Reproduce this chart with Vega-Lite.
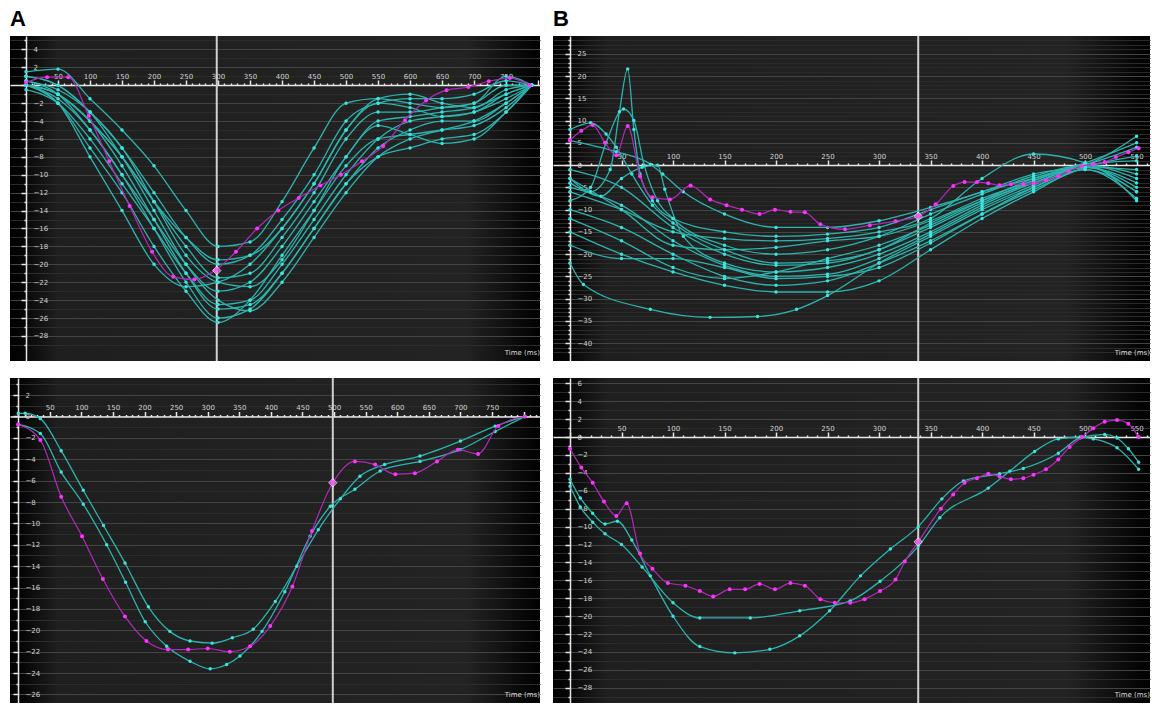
{
"$schema": "https://vega.github.io/schema/vega-lite/v6.json",
"background": "white",
"padding": {"left": 10, "top": 8, "right": 2, "bottom": 3},
"config": {
  "font": "DejaVu Sans",
  "view": {"fill": {"gradient": "linear", "x1": 0, "y1": 0, "x2": 1, "y2": 0, "stops": [{"offset": 0, "color": "#000000"}, {"offset": 0.025, "color": "#060606"}, {"offset": 0.09, "color": "#1f1f1f"}, {"offset": 0.86, "color": "#232323"}, {"offset": 1, "color": "#000000"}]}, "stroke": null},
  "axis": {"labelColor": "#d0d0d0", "labelFontSize": 7, "domainColor": "#e6e6e6", "domainWidth": 1.5, "tickColor": "#e6e6e6", "tickWidth": 1.5, "grid": false, "labelOverlap": false, "labelFlush": false},
  "axisY": {"labelAlign": "left", "labelPadding": -12},
  "axisX": {"labelPadding": 1},
  "title": {"fontSize": 7, "color": "#dddddd", "fontWeight": "normal"}
},
"datasets": {
"a1": [
{"s":"L","t":298},
{"s":"M","t":298,"v":-20.7},
{"s":"c1","t":0,"v":1.5},{"s":"c1","t":50,"v":1.8},{"s":"c1","t":100,"v":-1.5},{"s":"c1","t":150,"v":-5},{"s":"c1","t":200,"v":-9},{"s":"c1","t":250,"v":-14},{"s":"c1","t":300,"v":-18},{"s":"c1","t":350,"v":-17.5},{"s":"c1","t":400,"v":-13},{"s":"c1","t":450,"v":-7},{"s":"c1","t":500,"v":-2},{"s":"c1","t":550,"v":-1.5},{"s":"c1","t":600,"v":-2},{"s":"c1","t":650,"v":-2.5},{"s":"c1","t":700,"v":-2},{"s":"c1","t":750,"v":1},{"s":"c1","t":790,"v":0},
{"s":"c2","t":0,"v":1},{"s":"c2","t":50,"v":0},{"s":"c2","t":100,"v":-3},{"s":"c2","t":150,"v":-7},{"s":"c2","t":200,"v":-12},{"s":"c2","t":250,"v":-17},{"s":"c2","t":300,"v":-20},{"s":"c2","t":350,"v":-19},{"s":"c2","t":400,"v":-15},{"s":"c2","t":450,"v":-10},{"s":"c2","t":500,"v":-4},{"s":"c2","t":550,"v":-2},{"s":"c2","t":600,"v":-1.5},{"s":"c2","t":650,"v":-1.5},{"s":"c2","t":700,"v":-1},{"s":"c2","t":750,"v":0.5},{"s":"c2","t":790,"v":0},
{"s":"c3","t":0,"v":0},{"s":"c3","t":50,"v":-1},{"s":"c3","t":100,"v":-4},{"s":"c3","t":150,"v":-8},{"s":"c3","t":200,"v":-13},{"s":"c3","t":250,"v":-18},{"s":"c3","t":300,"v":-21.5},{"s":"c3","t":350,"v":-21},{"s":"c3","t":400,"v":-17},{"s":"c3","t":450,"v":-12},{"s":"c3","t":500,"v":-6},{"s":"c3","t":550,"v":-3},{"s":"c3","t":600,"v":-3},{"s":"c3","t":650,"v":-2.5},{"s":"c3","t":700,"v":-2},{"s":"c3","t":750,"v":0},{"s":"c3","t":790,"v":0},
{"s":"c4","t":0,"v":0},{"s":"c4","t":50,"v":-1.5},{"s":"c4","t":100,"v":-5},{"s":"c4","t":150,"v":-10},{"s":"c4","t":200,"v":-15},{"s":"c4","t":250,"v":-20},{"s":"c4","t":300,"v":-23},{"s":"c4","t":350,"v":-22},{"s":"c4","t":400,"v":-18},{"s":"c4","t":450,"v":-13},{"s":"c4","t":500,"v":-8},{"s":"c4","t":550,"v":-4},{"s":"c4","t":600,"v":-3.5},{"s":"c4","t":650,"v":-3},{"s":"c4","t":700,"v":-2.5},{"s":"c4","t":750,"v":-1},{"s":"c4","t":790,"v":0},
{"s":"c5","t":0,"v":-0.5},{"s":"c5","t":50,"v":-2},{"s":"c5","t":100,"v":-6},{"s":"c5","t":150,"v":-11},{"s":"c5","t":200,"v":-16},{"s":"c5","t":250,"v":-21},{"s":"c5","t":300,"v":-24.5},{"s":"c5","t":350,"v":-24},{"s":"c5","t":400,"v":-20},{"s":"c5","t":450,"v":-15},{"s":"c5","t":500,"v":-10},{"s":"c5","t":550,"v":-6},{"s":"c5","t":600,"v":-4},{"s":"c5","t":650,"v":-3.5},{"s":"c5","t":700,"v":-3},{"s":"c5","t":750,"v":-1.5},{"s":"c5","t":790,"v":0},
{"s":"c6","t":0,"v":0.5},{"s":"c6","t":50,"v":-1},{"s":"c6","t":100,"v":-5},{"s":"c6","t":150,"v":-10},{"s":"c6","t":200,"v":-16},{"s":"c6","t":250,"v":-22},{"s":"c6","t":300,"v":-26},{"s":"c6","t":350,"v":-25},{"s":"c6","t":400,"v":-21},{"s":"c6","t":450,"v":-16},{"s":"c6","t":500,"v":-11},{"s":"c6","t":550,"v":-7},{"s":"c6","t":600,"v":-5},{"s":"c6","t":650,"v":-4},{"s":"c6","t":700,"v":-4},{"s":"c6","t":750,"v":-2},{"s":"c6","t":790,"v":0},
{"s":"c7","t":0,"v":0},{"s":"c7","t":50,"v":-2},{"s":"c7","t":100,"v":-7},{"s":"c7","t":150,"v":-12},{"s":"c7","t":200,"v":-18},{"s":"c7","t":250,"v":-23},{"s":"c7","t":300,"v":-26.5},{"s":"c7","t":350,"v":-24},{"s":"c7","t":400,"v":-19},{"s":"c7","t":450,"v":-14},{"s":"c7","t":500,"v":-9},{"s":"c7","t":550,"v":-6},{"s":"c7","t":600,"v":-5.5},{"s":"c7","t":650,"v":-5},{"s":"c7","t":700,"v":-4.5},{"s":"c7","t":750,"v":-2.5},{"s":"c7","t":790,"v":0},
{"s":"c8","t":0,"v":1},{"s":"c8","t":50,"v":0},{"s":"c8","t":100,"v":-3},{"s":"c8","t":150,"v":-8},{"s":"c8","t":200,"v":-14},{"s":"c8","t":250,"v":-20},{"s":"c8","t":300,"v":-24},{"s":"c8","t":350,"v":-25.2},{"s":"c8","t":400,"v":-22},{"s":"c8","t":450,"v":-17},{"s":"c8","t":500,"v":-12},{"s":"c8","t":550,"v":-8},{"s":"c8","t":600,"v":-6},{"s":"c8","t":650,"v":-5},{"s":"c8","t":700,"v":-4},{"s":"c8","t":750,"v":-2},{"s":"c8","t":790,"v":0},
{"s":"c9","t":0,"v":0},{"s":"c9","t":50,"v":-1},{"s":"c9","t":100,"v":-4},{"s":"c9","t":150,"v":-9},{"s":"c9","t":200,"v":-15},{"s":"c9","t":250,"v":-21},{"s":"c9","t":300,"v":-25},{"s":"c9","t":350,"v":-24.5},{"s":"c9","t":400,"v":-21},{"s":"c9","t":450,"v":-16},{"s":"c9","t":500,"v":-11},{"s":"c9","t":550,"v":-8},{"s":"c9","t":600,"v":-7},{"s":"c9","t":650,"v":-6},{"s":"c9","t":700,"v":-5.5},{"s":"c9","t":750,"v":-3},{"s":"c9","t":790,"v":0},
{"s":"c10","t":0,"v":0},{"s":"c10","t":50,"v":-2},{"s":"c10","t":100,"v":-8},{"s":"c10","t":150,"v":-14},{"s":"c10","t":200,"v":-20},{"s":"c10","t":250,"v":-22.5},{"s":"c10","t":300,"v":-22},{"s":"c10","t":350,"v":-20},{"s":"c10","t":400,"v":-16},{"s":"c10","t":450,"v":-11},{"s":"c10","t":500,"v":-5},{"s":"c10","t":550,"v":-2},{"s":"c10","t":600,"v":-2.5},{"s":"c10","t":650,"v":-3.5},{"s":"c10","t":700,"v":-3},{"s":"c10","t":750,"v":-1},{"s":"c10","t":790,"v":0},
{"s":"c11","t":0,"v":0.5},{"s":"c11","t":50,"v":-0.5},{"s":"c11","t":100,"v":-3},{"s":"c11","t":150,"v":-7},{"s":"c11","t":200,"v":-13},{"s":"c11","t":250,"v":-19},{"s":"c11","t":300,"v":-22},{"s":"c11","t":350,"v":-22.5},{"s":"c11","t":400,"v":-19.5},{"s":"c11","t":450,"v":-14},{"s":"c11","t":500,"v":-8},{"s":"c11","t":550,"v":-4.5},{"s":"c11","t":600,"v":-5.5},{"s":"c11","t":650,"v":-6.5},{"s":"c11","t":700,"v":-6},{"s":"c11","t":750,"v":-3},{"s":"c11","t":790,"v":0},
{"s":"c12","t":0,"v":0},{"s":"c12","t":50,"v":-1},{"s":"c12","t":100,"v":-4},{"s":"c12","t":150,"v":-8},{"s":"c12","t":200,"v":-13},{"s":"c12","t":250,"v":-17},{"s":"c12","t":300,"v":-19.5},{"s":"c12","t":350,"v":-19},{"s":"c12","t":400,"v":-16},{"s":"c12","t":450,"v":-11},{"s":"c12","t":500,"v":-5},{"s":"c12","t":550,"v":-1.5},{"s":"c12","t":600,"v":-1},{"s":"c12","t":650,"v":-2},{"s":"c12","t":700,"v":-2.5},{"s":"c12","t":750,"v":-0.5},{"s":"c12","t":790,"v":0},
{"s":"m","t":0,"v":0.3},{"s":"m","t":33,"v":0.9},{"s":"m","t":66,"v":0.9},{"s":"m","t":98,"v":-3.4},{"s":"m","t":130,"v":-8.5},{"s":"m","t":162,"v":-13.5},{"s":"m","t":197,"v":-18.6},{"s":"m","t":230,"v":-21.4},{"s":"m","t":263,"v":-21.7},{"s":"m","t":295,"v":-20.7},{"s":"m","t":328,"v":-18.6},{"s":"m","t":361,"v":-16},{"s":"m","t":394,"v":-14},{"s":"m","t":426,"v":-12.6},{"s":"m","t":460,"v":-11.2},{"s":"m","t":492,"v":-10},{"s":"m","t":525,"v":-8.5},{"s":"m","t":558,"v":-6.8},{"s":"m","t":592,"v":-3.9},{"s":"m","t":625,"v":-1.7},{"s":"m","t":657,"v":-0.55},{"s":"m","t":691,"v":-0.2},{"s":"m","t":723,"v":0.45},{"s":"m","t":756,"v":0.8},{"s":"m","t":787,"v":0}
],
"a2": [
{"s":"L","t":498},
{"s":"M","t":498,"v":-6.2},
{"s":"c1","t":0,"v":0.3},{"s":"c1","t":11,"v":0.3},{"s":"c1","t":35,"v":-0.2},{"s":"c1","t":68,"v":-3.2},{"s":"c1","t":103,"v":-6.9},{"s":"c1","t":135,"v":-10.2},{"s":"c1","t":169,"v":-13.7},{"s":"c1","t":206,"v":-17.8},{"s":"c1","t":240,"v":-20.1},{"s":"c1","t":272,"v":-21},{"s":"c1","t":307,"v":-21.2},{"s":"c1","t":339,"v":-20.7},{"s":"c1","t":372,"v":-19.9},{"s":"c1","t":407,"v":-17.3},{"s":"c1","t":441,"v":-14},{"s":"c1","t":475,"v":-10.6},{"s":"c1","t":510,"v":-7.7},{"s":"c1","t":541,"v":-5.6},{"s":"c1","t":580,"v":-4.5},{"s":"c1","t":636,"v":-3.7},{"s":"c1","t":700,"v":-2.3},{"s":"c1","t":755,"v":-0.9},{"s":"c1","t":802,"v":0},
{"s":"c2","t":0,"v":-0.75},{"s":"c2","t":35,"v":-1.6},{"s":"c2","t":68,"v":-5.2},{"s":"c2","t":103,"v":-8.2},{"s":"c2","t":140,"v":-12},{"s":"c2","t":170,"v":-15.5},{"s":"c2","t":201,"v":-19.2},{"s":"c2","t":235,"v":-21.5},{"s":"c2","t":272,"v":-22.9},{"s":"c2","t":304,"v":-23.6},{"s":"c2","t":330,"v":-23.2},{"s":"c2","t":351,"v":-22.4},{"s":"c2","t":386,"v":-20.1},{"s":"c2","t":422,"v":-16.4},{"s":"c2","t":462,"v":-11.2},{"s":"c2","t":494,"v":-8.4},{"s":"c2","t":533,"v":-6.8},{"s":"c2","t":573,"v":-5.1},{"s":"c2","t":636,"v":-4.2},{"s":"c2","t":700,"v":-3.1},{"s":"c2","t":755,"v":-1.4},{"s":"c2","t":802,"v":0},
{"s":"m","t":0,"v":-0.75},{"s":"m","t":35,"v":-2.2},{"s":"m","t":68,"v":-7.5},{"s":"m","t":101,"v":-11.2},{"s":"m","t":134,"v":-15.2},{"s":"m","t":169,"v":-18.7},{"s":"m","t":203,"v":-21},{"s":"m","t":237,"v":-21.8},{"s":"m","t":269,"v":-21.8},{"s":"m","t":300,"v":-21.7},{"s":"m","t":335,"v":-22},{"s":"m","t":367,"v":-21.5},{"s":"m","t":399,"v":-19.6},{"s":"m","t":434,"v":-15.9},{"s":"m","t":465,"v":-10.7},{"s":"m","t":498,"v":-6.2},{"s":"m","t":533,"v":-4.2},{"s":"m","t":565,"v":-4.5},{"s":"m","t":597,"v":-5.4},{"s":"m","t":628,"v":-5.3},{"s":"m","t":663,"v":-4.2},{"s":"m","t":696,"v":-3.1},{"s":"m","t":728,"v":-3.5},{"s":"m","t":760,"v":-0.9},{"s":"m","t":802,"v":0}
],
"b1": [
{"s":"L","t":338},
{"s":"M","t":338,"v":-11.5},
{"s":"c1","t":0,"v":-4},{"s":"c1","t":20,"v":-6},{"s":"c1","t":39,"v":-1},{"s":"c1","t":48,"v":12},{"s":"c1","t":56,"v":21.6},{"s":"c1","t":62,"v":8},{"s":"c1","t":68,"v":-2},{"s":"c1","t":80,"v":-8},{"s":"c1","t":100,"v":-12},{"s":"c1","t":150,"v":-15},{"s":"c1","t":200,"v":-16},{"s":"c1","t":250,"v":-15.5},{"s":"c1","t":300,"v":-14},{"s":"c1","t":350,"v":-10},{"s":"c1","t":400,"v":-6},{"s":"c1","t":450,"v":-3},{"s":"c1","t":500,"v":0},{"s":"c1","t":550,"v":4},
{"s":"c2","t":0,"v":-8},{"s":"c2","t":20,"v":-5},{"s":"c2","t":35,"v":5},{"s":"c2","t":52,"v":12.6},{"s":"c2","t":62,"v":10},{"s":"c2","t":72,"v":0},{"s":"c2","t":85,"v":-8},{"s":"c2","t":100,"v":-12},{"s":"c2","t":150,"v":-18},{"s":"c2","t":200,"v":-20},{"s":"c2","t":250,"v":-19},{"s":"c2","t":300,"v":-16},{"s":"c2","t":350,"v":-11},{"s":"c2","t":400,"v":-6.5},{"s":"c2","t":450,"v":-2.5},{"s":"c2","t":500,"v":0},{"s":"c2","t":550,"v":-2},
{"s":"c3","t":0,"v":8},{"s":"c3","t":20,"v":9.5},{"s":"c3","t":35,"v":7},{"s":"c3","t":45,"v":4},{"s":"c3","t":60,"v":-2},{"s":"c3","t":80,"v":-9},{"s":"c3","t":100,"v":-13},{"s":"c3","t":150,"v":-19},{"s":"c3","t":200,"v":-22},{"s":"c3","t":250,"v":-21.5},{"s":"c3","t":300,"v":-19},{"s":"c3","t":350,"v":-13},{"s":"c3","t":400,"v":-8},{"s":"c3","t":450,"v":-4},{"s":"c3","t":500,"v":-0.5},{"s":"c3","t":550,"v":-4},
{"s":"c4","t":0,"v":5.5},{"s":"c4","t":45,"v":3},{"s":"c4","t":78,"v":0.2},{"s":"c4","t":90,"v":-2},{"s":"c4","t":110,"v":-6},{"s":"c4","t":150,"v":-11},{"s":"c4","t":200,"v":-14},{"s":"c4","t":250,"v":-14},{"s":"c4","t":300,"v":-12.5},{"s":"c4","t":350,"v":-9.5},{"s":"c4","t":400,"v":-6},{"s":"c4","t":450,"v":-2},{"s":"c4","t":500,"v":0},{"s":"c4","t":550,"v":6.5},
{"s":"c5","t":0,"v":-3},{"s":"c5","t":30,"v":-7},{"s":"c5","t":50,"v":-3},{"s":"c5","t":70,"v":-0.5},{"s":"c5","t":85,"v":0},{"s":"c5","t":92,"v":-5.4},{"s":"c5","t":110,"v":-16},{"s":"c5","t":150,"v":-22},{"s":"c5","t":200,"v":-24},{"s":"c5","t":250,"v":-23},{"s":"c5","t":300,"v":-20},{"s":"c5","t":350,"v":-15},{"s":"c5","t":400,"v":-9},{"s":"c5","t":450,"v":-4},{"s":"c5","t":500,"v":-0.5},{"s":"c5","t":550,"v":-5},
{"s":"c6","t":0,"v":-22},{"s":"c6","t":13,"v":-26.8},{"s":"c6","t":78,"v":-32.4},{"s":"c6","t":136,"v":-34.2},{"s":"c6","t":182,"v":-34},{"s":"c6","t":220,"v":-32.4},{"s":"c6","t":250,"v":-29.3},{"s":"c6","t":300,"v":-22},{"s":"c6","t":350,"v":-16},{"s":"c6","t":400,"v":-10},{"s":"c6","t":450,"v":-5},{"s":"c6","t":500,"v":-1},{"s":"c6","t":550,"v":-7.5},
{"s":"c7","t":0,"v":-15},{"s":"c7","t":50,"v":-20},{"s":"c7","t":100,"v":-24},{"s":"c7","t":150,"v":-27},{"s":"c7","t":200,"v":-28.5},{"s":"c7","t":250,"v":-28.5},{"s":"c7","t":300,"v":-26},{"s":"c7","t":350,"v":-19},{"s":"c7","t":400,"v":-12},{"s":"c7","t":450,"v":-6},{"s":"c7","t":500,"v":-1},{"s":"c7","t":550,"v":-6},
{"s":"c8","t":0,"v":-10},{"s":"c8","t":50,"v":-14},{"s":"c8","t":100,"v":-20},{"s":"c8","t":150,"v":-25},{"s":"c8","t":200,"v":-27},{"s":"c8","t":250,"v":-26},{"s":"c8","t":300,"v":-22},{"s":"c8","t":350,"v":-17},{"s":"c8","t":400,"v":-11},{"s":"c8","t":450,"v":-5.5},{"s":"c8","t":500,"v":-0.5},{"s":"c8","t":550,"v":2},
{"s":"c9","t":0,"v":-5},{"s":"c9","t":50,"v":-9},{"s":"c9","t":100,"v":-17},{"s":"c9","t":150,"v":-22.5},{"s":"c9","t":200,"v":-25},{"s":"c9","t":250,"v":-24.5},{"s":"c9","t":300,"v":-21},{"s":"c9","t":350,"v":-15.5},{"s":"c9","t":400,"v":-9.5},{"s":"c9","t":450,"v":-4.5},{"s":"c9","t":500,"v":0},{"s":"c9","t":550,"v":-3},
{"s":"c10","t":0,"v":-1},{"s":"c10","t":50,"v":-5},{"s":"c10","t":100,"v":-14},{"s":"c10","t":150,"v":-20},{"s":"c10","t":200,"v":-22.5},{"s":"c10","t":250,"v":-22},{"s":"c10","t":300,"v":-19},{"s":"c10","t":350,"v":-14},{"s":"c10","t":400,"v":-8.5},{"s":"c10","t":450,"v":-3.5},{"s":"c10","t":500,"v":0},{"s":"c10","t":550,"v":1},
{"s":"c11","t":0,"v":-12},{"s":"c11","t":50,"v":-17},{"s":"c11","t":100,"v":-23},{"s":"c11","t":150,"v":-25.5},{"s":"c11","t":200,"v":-24},{"s":"c11","t":250,"v":-21},{"s":"c11","t":300,"v":-18},{"s":"c11","t":350,"v":-13.5},{"s":"c11","t":400,"v":-8},{"s":"c11","t":450,"v":-3},{"s":"c11","t":500,"v":0.5},{"s":"c11","t":550,"v":5},
{"s":"c12","t":0,"v":-18},{"s":"c12","t":50,"v":-21},{"s":"c12","t":100,"v":-21},{"s":"c12","t":150,"v":-23},{"s":"c12","t":200,"v":-25.5},{"s":"c12","t":250,"v":-25},{"s":"c12","t":300,"v":-23},{"s":"c12","t":350,"v":-17.5},{"s":"c12","t":400,"v":-11},{"s":"c12","t":450,"v":-5},{"s":"c12","t":500,"v":-0.5},{"s":"c12","t":550,"v":-1},
{"s":"c13","t":0,"v":-6},{"s":"c13","t":50,"v":-10},{"s":"c13","t":100,"v":-15},{"s":"c13","t":150,"v":-16.5},{"s":"c13","t":200,"v":-17},{"s":"c13","t":250,"v":-16.5},{"s":"c13","t":300,"v":-15},{"s":"c13","t":350,"v":-12},{"s":"c13","t":400,"v":-3},{"s":"c13","t":450,"v":2.5},{"s":"c13","t":500,"v":0.5},{"s":"c13","t":550,"v":-6},
{"s":"c14","t":0,"v":-3},{"s":"c14","t":50,"v":-10},{"s":"c14","t":100,"v":-18},{"s":"c14","t":150,"v":-19},{"s":"c14","t":200,"v":-18.5},{"s":"c14","t":250,"v":-17},{"s":"c14","t":300,"v":-16},{"s":"c14","t":350,"v":-12.5},{"s":"c14","t":400,"v":-7.5},{"s":"c14","t":450,"v":-3.5},{"s":"c14","t":500,"v":0},{"s":"c14","t":550,"v":-8},
{"s":"m","t":0,"v":5.6},{"s":"m","t":11,"v":7.7},{"s":"m","t":22,"v":9},{"s":"m","t":34,"v":5},{"s":"m","t":45,"v":2.2},{"s":"m","t":56,"v":8.8},{"s":"m","t":68,"v":-2.5},{"s":"m","t":80,"v":-7.2},{"s":"m","t":97,"v":-7.7},{"s":"m","t":117,"v":-4.6},{"s":"m","t":136,"v":-7.7},{"s":"m","t":152,"v":-9},{"s":"m","t":167,"v":-10},{"s":"m","t":184,"v":-11},{"s":"m","t":199,"v":-10},{"s":"m","t":214,"v":-10.5},{"s":"m","t":228,"v":-10.6},{"s":"m","t":243,"v":-13.3},{"s":"m","t":267,"v":-14.4},{"s":"m","t":291,"v":-13.5},{"s":"m","t":316,"v":-12.6},{"s":"m","t":338,"v":-11.5},{"s":"m","t":355,"v":-8.8},{"s":"m","t":372,"v":-4.7},{"s":"m","t":383,"v":-3.8},{"s":"m","t":395,"v":-3.8},{"s":"m","t":406,"v":-4.1},{"s":"m","t":417,"v":-4.5},{"s":"m","t":428,"v":-4.3},{"s":"m","t":440,"v":-4.3},{"s":"m","t":450,"v":-4.1},{"s":"m","t":462,"v":-3.4},{"s":"m","t":474,"v":-2.5},{"s":"m","t":484,"v":-1.4},{"s":"m","t":497,"v":-0.2},{"s":"m","t":508,"v":0.2},{"s":"m","t":519,"v":0.7},{"s":"m","t":530,"v":1.8},{"s":"m","t":542,"v":2.9},{"s":"m","t":552,"v":3.8}
],
"b2": [
{"s":"L","t":338},
{"s":"M","t":338,"v":-11.7},
{"s":"c1","t":0,"v":-4.7},{"s":"c1","t":10,"v":-6.8},{"s":"c1","t":22,"v":-8.5},{"s":"c1","t":34,"v":-9.7},{"s":"c1","t":46,"v":-9.4},{"s":"c1","t":60,"v":-11.5},{"s":"c1","t":78,"v":-15.5},{"s":"c1","t":100,"v":-20},{"s":"c1","t":126,"v":-23.4},{"s":"c1","t":160,"v":-24.1},{"s":"c1","t":194,"v":-23.7},{"s":"c1","t":223,"v":-22.2},{"s":"c1","t":252,"v":-19.4},{"s":"c1","t":282,"v":-15.5},{"s":"c1","t":311,"v":-12.5},{"s":"c1","t":338,"v":-10},{"s":"c1","t":361,"v":-6.9},{"s":"c1","t":382,"v":-4.9},{"s":"c1","t":417,"v":-4.1},{"s":"c1","t":440,"v":-3.5},{"s":"c1","t":474,"v":-1.8},{"s":"c1","t":495,"v":-0.1},{"s":"c1","t":519,"v":0.3},{"s":"c1","t":531,"v":-0.1},{"s":"c1","t":542,"v":-1.3},{"s":"c1","t":552,"v":-2.8},
{"s":"c2","t":0,"v":-5.5},{"s":"c2","t":10,"v":-7.8},{"s":"c2","t":22,"v":-9.5},{"s":"c2","t":34,"v":-10.8},{"s":"c2","t":50,"v":-12},{"s":"c2","t":70,"v":-14.5},{"s":"c2","t":100,"v":-18.5},{"s":"c2","t":126,"v":-20.2},{"s":"c2","t":175,"v":-20.2},{"s":"c2","t":223,"v":-19.4},{"s":"c2","t":272,"v":-18.3},{"s":"c2","t":301,"v":-16.1},{"s":"c2","t":338,"v":-12.2},{"s":"c2","t":359,"v":-9},{"s":"c2","t":406,"v":-5.7},{"s":"c2","t":427,"v":-3.8},{"s":"c2","t":451,"v":-1.6},{"s":"c2","t":474,"v":-0.2},{"s":"c2","t":495,"v":0},{"s":"c2","t":508,"v":-0.2},{"s":"c2","t":531,"v":-1.2},{"s":"c2","t":552,"v":-3.6},
{"s":"m","t":0,"v":-1.3},{"s":"m","t":11,"v":-3.4},{"s":"m","t":22,"v":-5.1},{"s":"m","t":33,"v":-7.2},{"s":"m","t":45,"v":-8.8},{"s":"m","t":55,"v":-7.4},{"s":"m","t":68,"v":-13},{"s":"m","t":80,"v":-14.7},{"s":"m","t":95,"v":-16.3},{"s":"m","t":112,"v":-16.6},{"s":"m","t":126,"v":-17.2},{"s":"m","t":139,"v":-17.8},{"s":"m","t":155,"v":-17},{"s":"m","t":170,"v":-17},{"s":"m","t":184,"v":-16.4},{"s":"m","t":199,"v":-17},{"s":"m","t":214,"v":-16.3},{"s":"m","t":228,"v":-16.6},{"s":"m","t":243,"v":-18.1},{"s":"m","t":257,"v":-18.5},{"s":"m","t":272,"v":-18.5},{"s":"m","t":286,"v":-18.1},{"s":"m","t":301,"v":-17.2},{"s":"m","t":316,"v":-15.9},{"s":"m","t":325,"v":-13.9},{"s":"m","t":338,"v":-11.7},{"s":"m","t":360,"v":-8},{"s":"m","t":372,"v":-6.4},{"s":"m","t":383,"v":-5.1},{"s":"m","t":395,"v":-4.6},{"s":"m","t":406,"v":-4.1},{"s":"m","t":417,"v":-4.4},{"s":"m","t":428,"v":-4.7},{"s":"m","t":440,"v":-4.6},{"s":"m","t":450,"v":-4.2},{"s":"m","t":462,"v":-3.6},{"s":"m","t":474,"v":-2.5},{"s":"m","t":485,"v":-1.1},{"s":"m","t":497,"v":0},{"s":"m","t":508,"v":1},{"s":"m","t":519,"v":1.7},{"s":"m","t":531,"v":1.9},{"s":"m","t":542,"v":1.5},{"s":"m","t":552,"v":0}
]
},
"spacing": 13,
"hconcat": [
{
 "title": {"text": "A", "anchor": "start", "fontSize": 22, "fontWeight": "bold", "font": "Liberation Sans", "color": "#000000", "offset": 4},
 "spacing": 15,
 "vconcat": [
  {
   "width": 530, "height": 325,
   "data": {"name": "a1"},
   "title": {"text": "Time (ms)", "orient": "bottom", "anchor": "end", "offset": -13},
   "encoding": {"x": {"field": "t", "type": "quantitative", "scale": {"domain": [-25, 803], "nice": false, "zero": false},
     "axis": {"title": null, "orient": "top", "offset": -49, "values": [0,10,20,30,40,50,60,70,80,90,100,110,120,130,140,150,160,170,180,190,200,210,220,230,240,250,260,270,280,290,300,310,320,330,340,350,360,370,380,390,400,410,420,430,440,450,460,470,480,490,500,510,520,530,540,550,560,570,580,590,600,610,620,630,640,650,660,670,680,690,700,710,720,730,740,750,760,770,780,790,800],
       "labelExpr": "datum.value % 50 == 0 && datum.value > 0 && datum.value < 800 ? datum.label : ''",
       "tickSize": {"condition": {"test": "datum.value % 50 == 0", "value": 5}, "value": 2}}}},
   "layer": [
    {"transform": [{"filter": "datum.s=='L'"}], "mark": {"type": "rule", "color": "#d0d0d0", "strokeWidth": 2}},
    {"encoding": {
      "y": {"field": "v", "type": "quantitative", "scale": {"domain": [-30.8, 5.5], "nice": false, "zero": false},
        "axis": {"title": null, "orient": "left", "offset": -16, "grid": true, "values": [-29,-28,-27,-26,-25,-24,-23,-22,-21,-20,-19,-18,-17,-16,-15,-14,-13,-12,-11,-10,-9,-8,-7,-6,-5,-4,-3,-2,-1,0,1,2,3,4,5],
          "labelExpr": "datum.value % 2 == 0 ? datum.label : ''",
          "gridColor": {"condition": {"test": "datum.value % 2 == 0", "value": "#444444"}, "value": "#2c2c2c"},
          "tickSize": {"condition": {"test": "datum.value % 2 == 0", "value": 5}, "value": 2}}}},
     "layer": [
      {"transform": [{"filter": "datum.s[0]=='c'"}], "mark": {"type": "line", "interpolate": "monotone", "color": "#2db3ad", "strokeWidth": 1.3, "point": {"filled": true, "size": 12, "color": "#3fe3dc"}}, "encoding": {"detail": {"field": "s"}}},
      {"transform": [{"filter": "datum.s=='m'"}], "mark": {"type": "line", "interpolate": "monotone", "color": "#b02ab8", "strokeWidth": 1.2, "point": {"filled": true, "size": 16, "color": "#ff33ff"}}},
      {"transform": [{"filter": "datum.s=='M'"}], "mark": {"type": "point", "shape": "diamond", "filled": true, "size": 70, "color": "#ff66ff", "stroke": "#ffffff", "strokeWidth": 1}}
     ]}
   ]
  },
  {
   "width": 530, "height": 325,
   "data": {"name": "a2"},
   "title": {"text": "Time (ms)", "orient": "bottom", "anchor": "end", "offset": -13},
   "encoding": {"x": {"field": "t", "type": "quantitative", "scale": {"domain": [-13, 826], "nice": false, "zero": false},
     "axis": {"title": null, "orient": "top", "offset": -38.5, "values": [0,10,20,30,40,50,60,70,80,90,100,110,120,130,140,150,160,170,180,190,200,210,220,230,240,250,260,270,280,290,300,310,320,330,340,350,360,370,380,390,400,410,420,430,440,450,460,470,480,490,500,510,520,530,540,550,560,570,580,590,600,610,620,630,640,650,660,670,680,690,700,710,720,730,740,750,760,770,780,790,800,810,820],
       "labelExpr": "datum.value % 50 == 0 && datum.value > 0 && datum.value < 800 ? datum.label : ''",
       "tickSize": {"condition": {"test": "datum.value % 50 == 0", "value": 5}, "value": 2}}}},
   "layer": [
    {"transform": [{"filter": "datum.s=='L'"}], "mark": {"type": "rule", "color": "#d0d0d0", "strokeWidth": 2}},
    {"encoding": {
      "y": {"field": "v", "type": "quantitative", "scale": {"domain": [-26.8, 3.6], "nice": false, "zero": false},
        "axis": {"title": null, "orient": "left", "offset": -8, "grid": true, "values": [-26,-25,-24,-23,-22,-21,-20,-19,-18,-17,-16,-15,-14,-13,-12,-11,-10,-9,-8,-7,-6,-5,-4,-3,-2,-1,0,1,2,3],
          "labelExpr": "datum.value % 2 == 0 ? datum.label : ''",
          "gridColor": {"condition": {"test": "datum.value % 2 == 0", "value": "#444444"}, "value": "#2c2c2c"},
          "tickSize": {"condition": {"test": "datum.value % 2 == 0", "value": 5}, "value": 2}}}},
     "layer": [
      {"transform": [{"filter": "datum.s[0]=='c'"}], "mark": {"type": "line", "interpolate": "monotone", "color": "#2db3ad", "strokeWidth": 1.3, "point": {"filled": true, "size": 12, "color": "#3fe3dc"}}, "encoding": {"detail": {"field": "s"}}},
      {"transform": [{"filter": "datum.s=='m'"}], "mark": {"type": "line", "interpolate": "monotone", "color": "#b02ab8", "strokeWidth": 1.2, "point": {"filled": true, "size": 16, "color": "#ff33ff"}}},
      {"transform": [{"filter": "datum.s=='M'"}], "mark": {"type": "point", "shape": "diamond", "filled": true, "size": 70, "color": "#ff66ff", "stroke": "#ffffff", "strokeWidth": 1}}
     ]}
   ]
  }
 ]
},
{
 "title": {"text": "B", "anchor": "start", "fontSize": 22, "fontWeight": "bold", "font": "Liberation Sans", "color": "#000000", "offset": 4},
 "spacing": 15,
 "vconcat": [
  {
   "width": 597, "height": 325,
   "data": {"name": "b1"},
   "title": {"text": "Time (ms)", "orient": "bottom", "anchor": "end", "offset": -13},
   "encoding": {"x": {"field": "t", "type": "quantitative", "scale": {"domain": [-16.5, 563], "nice": false, "zero": false},
     "axis": {"title": null, "orient": "top", "offset": -129, "values": [0,10,20,30,40,50,60,70,80,90,100,110,120,130,140,150,160,170,180,190,200,210,220,230,240,250,260,270,280,290,300,310,320,330,340,350,360,370,380,390,400,410,420,430,440,450,460,470,480,490,500,510,520,530,540,550,560],
       "labelExpr": "datum.value % 50 == 0 && datum.value > 0 ? datum.label : ''",
       "tickSize": {"condition": {"test": "datum.value % 50 == 0", "value": 5}, "value": 2}}}},
   "layer": [
    {"transform": [{"filter": "datum.s=='L'"}], "mark": {"type": "rule", "color": "#d0d0d0", "strokeWidth": 2}},
    {"encoding": {
      "y": {"field": "v", "type": "quantitative", "scale": {"domain": [-44, 29], "nice": false, "zero": false},
        "axis": {"title": null, "orient": "left", "offset": -17, "grid": true, "values": [-42,-41,-40,-39,-38,-37,-36,-35,-34,-33,-32,-31,-30,-29,-28,-27,-26,-25,-24,-23,-22,-21,-20,-19,-18,-17,-16,-15,-14,-13,-12,-11,-10,-9,-8,-7,-6,-5,-4,-3,-2,-1,0,1,2,3,4,5,6,7,8,9,10,11,12,13,14,15,16,17,18,19,20,21,22,23,24,25,26,27,28],
          "labelExpr": "datum.value % 5 == 0 ? datum.label : ''",
          "gridColor": {"condition": {"test": "datum.value % 5 == 0", "value": "#444444"}, "value": "#2a2a2a"},
          "tickSize": {"condition": {"test": "datum.value % 5 == 0", "value": 5}, "value": 2}}}},
     "layer": [
      {"transform": [{"filter": "datum.s[0]=='c'"}], "mark": {"type": "line", "interpolate": "monotone", "color": "#2db3ad", "strokeWidth": 1.3, "point": {"filled": true, "size": 12, "color": "#3fe3dc"}}, "encoding": {"detail": {"field": "s"}}},
      {"transform": [{"filter": "datum.s=='m'"}], "mark": {"type": "line", "interpolate": "monotone", "color": "#b02ab8", "strokeWidth": 1.2, "point": {"filled": true, "size": 16, "color": "#ff33ff"}}},
      {"transform": [{"filter": "datum.s=='M'"}], "mark": {"type": "point", "shape": "diamond", "filled": true, "size": 70, "color": "#ff66ff", "stroke": "#ffffff", "strokeWidth": 1}}
     ]}
   ]
  },
  {
   "width": 597, "height": 325,
   "data": {"name": "b2"},
   "title": {"text": "Time (ms)", "orient": "bottom", "anchor": "end", "offset": -13},
   "encoding": {"x": {"field": "t", "type": "quantitative", "scale": {"domain": [-16.5, 563], "nice": false, "zero": false},
     "axis": {"title": null, "orient": "top", "offset": -59, "values": [0,10,20,30,40,50,60,70,80,90,100,110,120,130,140,150,160,170,180,190,200,210,220,230,240,250,260,270,280,290,300,310,320,330,340,350,360,370,380,390,400,410,420,430,440,450,460,470,480,490,500,510,520,530,540,550,560],
       "labelExpr": "datum.value % 50 == 0 && datum.value > 0 ? datum.label : ''",
       "tickSize": {"condition": {"test": "datum.value % 50 == 0", "value": 5}, "value": 2}}}},
   "layer": [
    {"transform": [{"filter": "datum.s=='L'"}], "mark": {"type": "rule", "color": "#d0d0d0", "strokeWidth": 2}},
    {"encoding": {
      "y": {"field": "v", "type": "quantitative", "scale": {"domain": [-29.7, 6.6], "nice": false, "zero": false},
        "axis": {"title": null, "orient": "left", "offset": -17, "grid": true, "values": [-29,-28,-27,-26,-25,-24,-23,-22,-21,-20,-19,-18,-17,-16,-15,-14,-13,-12,-11,-10,-9,-8,-7,-6,-5,-4,-3,-2,-1,0,1,2,3,4,5,6],
          "labelExpr": "datum.value % 2 == 0 ? datum.label : ''",
          "gridColor": {"condition": {"test": "datum.value % 2 == 0", "value": "#444444"}, "value": "#2c2c2c"},
          "tickSize": {"condition": {"test": "datum.value % 2 == 0", "value": 5}, "value": 2}}}},
     "layer": [
      {"transform": [{"filter": "datum.s[0]=='c'"}], "mark": {"type": "line", "interpolate": "monotone", "color": "#2db3ad", "strokeWidth": 1.3, "point": {"filled": true, "size": 12, "color": "#3fe3dc"}}, "encoding": {"detail": {"field": "s"}}},
      {"transform": [{"filter": "datum.s=='m'"}], "mark": {"type": "line", "interpolate": "monotone", "color": "#b02ab8", "strokeWidth": 1.2, "point": {"filled": true, "size": 16, "color": "#ff33ff"}}},
      {"transform": [{"filter": "datum.s=='M'"}], "mark": {"type": "point", "shape": "diamond", "filled": true, "size": 70, "color": "#ff66ff", "stroke": "#ffffff", "strokeWidth": 1}}
     ]}
   ]
  }
 ]
}
]
}
